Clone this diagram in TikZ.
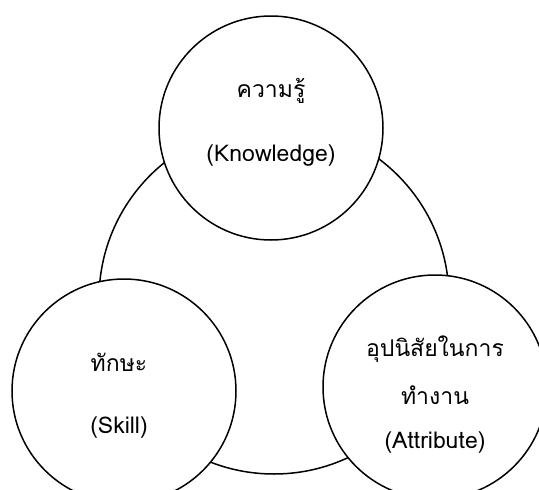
\documentclass[tikz,border=0pt]{standalone}
\usepackage{fontspec}
\newfontfamily\thaifont[Script=Thai]{Loma}
\tikzset{ring/.style={draw,circle,fill=white,line width=1.5pt,minimum size=224pt,inner sep=0pt},
         lbl/.style={font=\thaifont\fontsize{23}{23}\selectfont,align=center}}
\begin{document}
\begin{tikzpicture}[x=1pt,y=1pt]
\useasboundingbox (0,0) rectangle (539,-490);
% outer ring
\node[ring,minimum size=350pt] (whole) at (274,-299) {};
% three parts
\node[ring] (know) at (271,-128) {};
\node[ring] (skill) at (124,-391) {};
\node[ring] (attr) at (435,-387) {};
% texts
\node[lbl] (knowth) at (271,-91) {ความรู้};
\node[lbl] (knowen) at (271,-156) {(Knowledge)};
\node[lbl] (skillth) at (119,-362) {ทักษะ};
\node[lbl] (skillen) at (119,-428) {(Skill)};
\node[lbl] (attrth) at (435,-349) {อุปนิสัยในการ};
\node[lbl] (attrth2) at (435,-395) {ทำงาน};
\node[lbl] (attren) at (435,-443) {(Attribute)};
\end{tikzpicture}
\end{document}
